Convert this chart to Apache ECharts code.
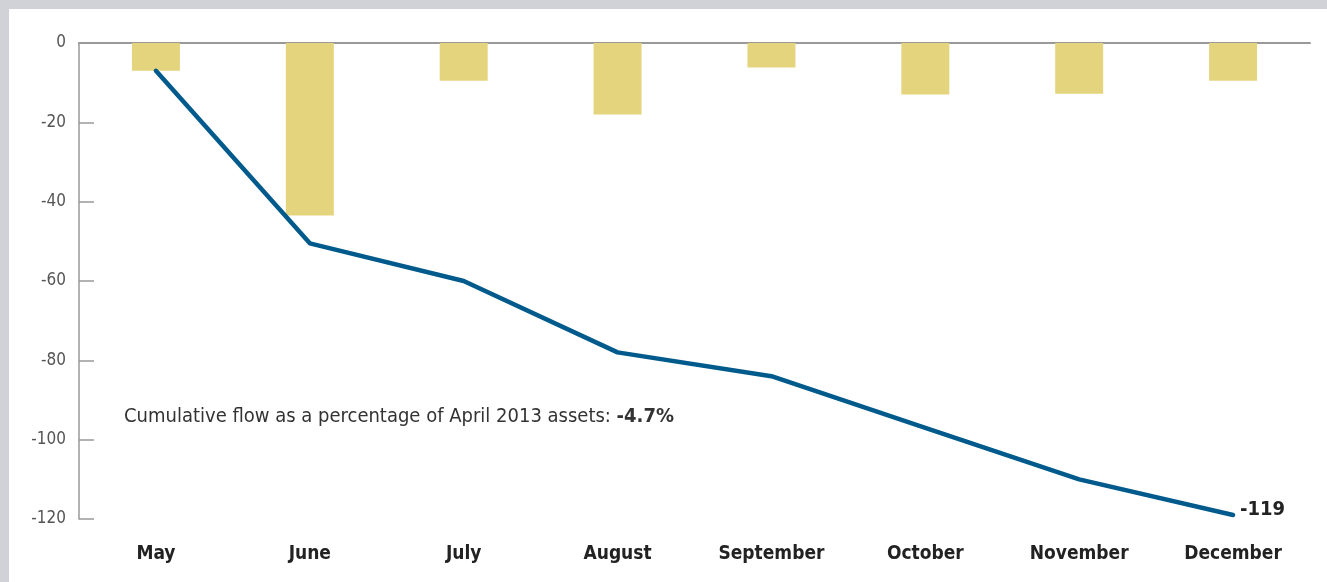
<!DOCTYPE html>
<html><head><meta charset="utf-8">
<script src="https://cdn.jsdelivr.net/npm/echarts@6/dist/echarts.min.js"></script>
<style>
html,body{margin:0;padding:0;background:#d0d2d8;}
#wrap{position:absolute;left:9px;top:9px;right:0;bottom:0;background:#fff;}
#c{position:absolute;left:0;top:0;width:1327px;height:582px;}
</style></head>
<body><div id="wrap"></div><div id="c"></div>
<script>
const months = ['May','June','July','August','September','October','November','December'];
const monthlyFlow = [-7, -43.5, -9.5, -18, -6.2, -13, -12.8, -9.5];
const cumulativeFlow = [-7, -50.5, -60, -78, -84, -97, -110, -119];
const yTicks = [0, -20, -40, -60, -80, -100, -120];
const noteText = 'Cumulative flow as a percentage of April 2013 assets: ';
const noteValue = '-4.7%';
const endLabel = '-119';

const narrow = '"Liberation Sans Narrow","DejaVu Sans Condensed","Roboto Condensed",sans-serif';
const chart = echarts.init(document.getElementById('c'), null, {renderer:'canvas'});
chart.setOption({
  backgroundColor:'transparent',
  animation:false,
  grid:{left:79, right:17, top:43, bottom:63},
  title:{
    left:124, top:407, padding:0,
    text:'{a|' + noteText + '}{b|' + noteValue + '}',
    textStyle:{fontWeight:'normal', rich:{
      a:{fontFamily:narrow, fontSize:20, color:'#333', fontWeight:'normal'},
      b:{fontFamily:narrow, fontSize:20, color:'#333', fontWeight:'bold'}
    }}
  },
  xAxis:[
    {type:'category', data:months, position:'bottom',
     axisLine:{show:false, onZero:false}, axisTick:{show:false},
     axisLabel:{margin:26, fontFamily:narrow, fontSize:19, fontWeight:'bold', color:'#222'}},
    {type:'category', data:months, position:'top',
     axisLine:{show:true, onZero:false, lineStyle:{color:'#999', width:2}}, axisTick:{show:false}, axisLabel:{show:false}}
  ],
  yAxis:{type:'value', min:-120, max:0, interval:20,
    axisLine:{show:true, lineStyle:{color:'#999', width:1.5}},
    axisTick:{show:true, inside:true, length:15, lineStyle:{color:'#999', width:1.5}},
    splitLine:{show:false},
    axisLabel:{margin:13, fontFamily:narrow, fontSize:17, color:'#555',
      formatter:v => yTicks.includes(v) ? String(v) : ''}
  },
  series:[
    {type:'bar', xAxisIndex:0, data:monthlyFlow, barWidth:48, itemStyle:{color:'#e5d47e'}, z:1},
    {type:'line', xAxisIndex:0, data:cumulativeFlow, symbol:'none', z:3,
     lineStyle:{color:'#005a8c', width:4.5, cap:'round', join:'round'},
     endLabel:{show:true, formatter:endLabel, fontFamily:narrow, fontSize:20, fontWeight:'bold', color:'#222', distance:7, offset:[0,-5]}}
  ]
});
</script></body></html>
